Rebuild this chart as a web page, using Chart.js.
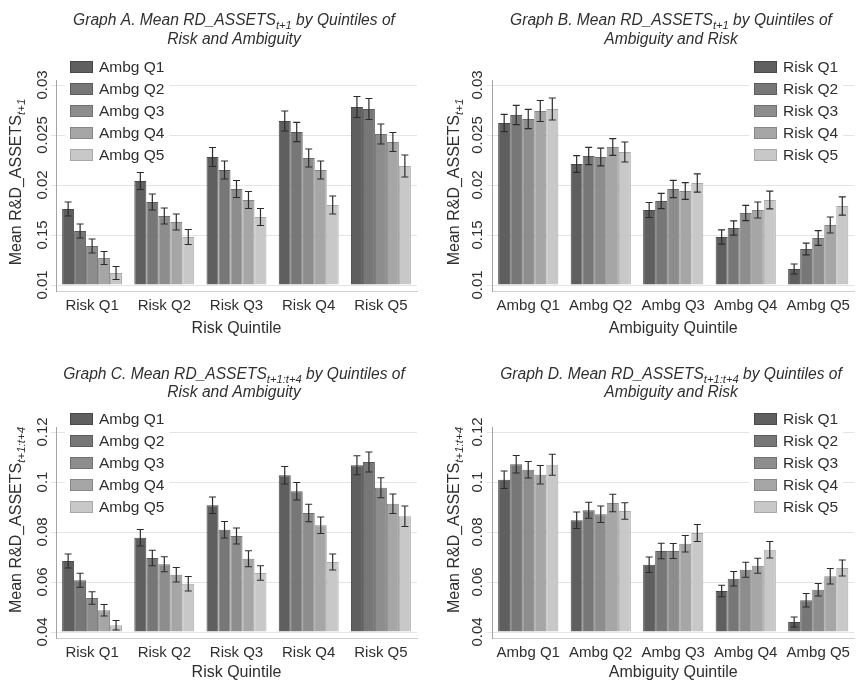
<!DOCTYPE html>
<html>
<head>
<meta charset="utf-8">
<script src="https://cdn.jsdelivr.net/npm/chart.js@4.4.1/dist/chart.umd.min.js"></script>
<style>
    html, body { margin: 0; padding: 0; background: #ffffff; }
    #wrap { position: relative; width: 856px; height: 682px; overflow: hidden; }
    #wrap canvas { position: absolute; }
</style>
</head>
<body>
<div id="wrap">
    <canvas id="chartA" width="428" height="341" style="left:0;top:0"></canvas>
    <canvas id="chartB" width="428" height="341" style="left:428px;top:0"></canvas>
    <canvas id="chartC" width="428" height="341" style="left:0;top:341px"></canvas>
    <canvas id="chartD" width="428" height="341" style="left:428px;top:341px"></canvas>
</div>
<script>
// ---- data ----
const riskCategories = ['Risk Q1', 'Risk Q2', 'Risk Q3', 'Risk Q4', 'Risk Q5'];
const ambgCategories = ['Ambg Q1', 'Ambg Q2', 'Ambg Q3', 'Ambg Q4', 'Ambg Q5'];

const ticksOneYear = [0.01, 0.015, 0.02, 0.025, 0.03];
const tickLabelsOneYear = ['0.01', '0.15', '0.02', '0.025', '0.03'];
const ticksFourYear = [0.04, 0.06, 0.08, 0.1, 0.12];
const tickLabelsFourYear = ['0.04', '0.06', '0.08', '0.1', '0.12'];

// Graph A: series = ambiguity quintile, x = risk quintile
const aAmbgQ1 = [0.0176, 0.0204, 0.0228, 0.0264, 0.0278];
const aAmbgQ2 = [0.0154, 0.0183, 0.0215, 0.0253, 0.0276];
const aAmbgQ3 = [0.0139, 0.0169, 0.0196, 0.0227, 0.0251];
const aAmbgQ4 = [0.0127, 0.0163, 0.0185, 0.0215, 0.0243];
const aAmbgQ5 = [0.0112, 0.0148, 0.0168, 0.0180, 0.0219];
const aErrQ1 = [0.0007, 0.00085, 0.00095, 0.001, 0.00105];
const aErrQ2 = [0.0007, 0.0008, 0.0009, 0.00097, 0.00105];
const aErrQ3 = [0.0007, 0.0008, 0.00085, 0.0009, 0.001];
const aErrQ4 = [0.00065, 0.0008, 0.00085, 0.0009, 0.00095];
const aErrQ5 = [0.00065, 0.00075, 0.00085, 0.0009, 0.0011];

// Graph B: series = risk quintile, x = ambiguity quintile
const bRiskQ1 = [0.0262, 0.0221, 0.0175, 0.0148, 0.0116];
const bRiskQ2 = [0.0270, 0.0229, 0.0184, 0.0157, 0.0136];
const bRiskQ3 = [0.0266, 0.0228, 0.0196, 0.0172, 0.0147];
const bRiskQ4 = [0.0274, 0.0238, 0.0194, 0.0175, 0.0160];
const bRiskQ5 = [0.0276, 0.0233, 0.0202, 0.0185, 0.0179];
const bErrQ1 = [0.00087, 0.00083, 0.00075, 0.00072, 0.0005];
const bErrQ2 = [0.00097, 0.00087, 0.00077, 0.00072, 0.00058];
const bErrQ3 = [0.00097, 0.00088, 0.00087, 0.00077, 0.00073];
const bErrQ4 = [0.00105, 0.00083, 0.00083, 0.0008, 0.0008];
const bErrQ5 = [0.0011, 0.001, 0.00092, 0.00088, 0.00092];

// Graph C
const cAmbgQ1 = [0.0684, 0.0777, 0.0907, 0.1027, 0.1067];
const cAmbgQ2 = [0.0607, 0.0696, 0.0809, 0.0963, 0.1080];
const cAmbgQ3 = [0.0536, 0.0671, 0.0784, 0.0876, 0.0977];
const cAmbgQ4 = [0.0487, 0.0629, 0.0693, 0.0827, 0.0913];
const cAmbgQ5 = [0.0427, 0.0593, 0.0636, 0.0680, 0.0863];
const cErrQ1 = [0.0028, 0.0033, 0.0033, 0.0035, 0.0038];
const cErrQ2 = [0.0028, 0.0031, 0.0033, 0.0035, 0.004];
const cErrQ3 = [0.0025, 0.003, 0.0032, 0.0035, 0.004];
const cErrQ4 = [0.0023, 0.0029, 0.0032, 0.0033, 0.0039];
const cErrQ5 = [0.0019, 0.0029, 0.0029, 0.0032, 0.0041];

// Graph D
const dRiskQ1 = [0.1009, 0.0847, 0.0669, 0.0564, 0.0440];
const dRiskQ2 = [0.1071, 0.0887, 0.0724, 0.0613, 0.0527];
const dRiskQ3 = [0.1049, 0.0871, 0.0724, 0.0649, 0.0569];
const dRiskQ4 = [0.1029, 0.0916, 0.0753, 0.0665, 0.0623];
const dRiskQ5 = [0.1069, 0.0884, 0.0796, 0.0729, 0.0656];
const dErrQ1 = [0.0035, 0.0033, 0.0031, 0.0023, 0.002];
const dErrQ2 = [0.0035, 0.0032, 0.0031, 0.0029, 0.0027];
const dErrQ3 = [0.0033, 0.0033, 0.003, 0.003, 0.0025];
const dErrQ4 = [0.0037, 0.0035, 0.0033, 0.003, 0.0031];
const dErrQ5 = [0.0042, 0.0033, 0.0034, 0.0033, 0.0032];

// ---- styles ----
const FAMILY = '"Liberation Sans", Arial, Helvetica, sans-serif';
const TEXT = '#2f2f2f';
const barFill = ['#5f5f5f', '#777777', '#8d8d8d', '#a6a6a6', '#c8c8c8'];
const barEdge = ['#484848', '#5c5c5c', '#707070', '#878787', '#a9a9a9'];

Chart.defaults.font.family = FAMILY;
Chart.defaults.color = TEXT;

const measureCtx = document.createElement('canvas').getContext('2d');

function drawSegments(ctx, segs, cx, cy, style, size) {
    const fontFor = s => s.sub
        ? 'italic ' + (size * 0.72).toFixed(1) + 'px ' + FAMILY
        : style + size + 'px ' + FAMILY;
    let total = 0;
    segs.forEach(s => { ctx.font = fontFor(s); total += ctx.measureText(s.t).width; });
    let x = cx - total / 2;
    ctx.textBaseline = 'middle';
    ctx.textAlign = 'left';
    segs.forEach(s => {
        ctx.font = fontFor(s);
        ctx.fillText(s.t, x, cy + (s.sub ? size * 0.3 : 0));
        x += ctx.measureText(s.t).width;
    });
}

// error bars drawn from each bar's own position and the y scale
const errorBars = {
    id: 'errorBars',
    afterDatasetsDraw(chart) {
        const ctx = chart.ctx;
        const yScale = chart.scales.y;
        ctx.save();
        ctx.strokeStyle = '#2c2c2c';
        ctx.lineWidth = 1.2;
        chart.data.datasets.forEach((ds, i) => {
            chart.getDatasetMeta(i).data.forEach((bar, j) => {
                const top = yScale.getPixelForValue(ds.data[j] + ds.errors[j]);
                const bot = yScale.getPixelForValue(ds.data[j] - ds.errors[j]);
                ctx.beginPath();
                ctx.moveTo(bar.x, top); ctx.lineTo(bar.x, bot);
                ctx.moveTo(bar.x - 3.5, top); ctx.lineTo(bar.x + 3.5, top);
                ctx.moveTo(bar.x - 3.5, bot); ctx.lineTo(bar.x + 3.5, bot);
                ctx.stroke();
            });
        });
        ctx.restore();
    }
};

function panelDecor(p) {
    return {
        id: 'panelDecor',
        afterDatasetsDraw(chart) {
            const ctx = chart.ctx;
            ctx.save();

            // legend with white box
            ctx.font = '15.5px ' + FAMILY;
            const labels = chart.data.datasets.map(ds => ds.label);
            const textW = Math.max(...labels.map(l => ctx.measureText(l).width));
            ctx.fillStyle = '#ffffff';
            ctx.fillRect(p.legendX - 5, p.legendY - 11, 29 + textW + 10, 22 * labels.length);
            chart.data.datasets.forEach((ds, i) => {
                const cy = p.legendY + i * 22;
                ctx.fillStyle = ds.backgroundColor;
                ctx.fillRect(p.legendX, cy - 6, 23, 12);
                ctx.strokeStyle = ds.borderColor;
                ctx.lineWidth = 1;
                ctx.strokeRect(p.legendX + 0.5, cy - 5.5, 22, 11);
                ctx.fillStyle = TEXT;
                ctx.textBaseline = 'middle';
                ctx.textAlign = 'left';
                ctx.fillText(ds.label, p.legendX + 29, cy + 1);
            });

            // titles with subscripts
            ctx.fillStyle = TEXT;
            p.title.forEach((segs, i) => drawSegments(ctx, segs, p.titleX, p.titleY[i], 'italic ', 15.6));
            ctx.translate(p.yTitleX, p.yTitleY);
            ctx.rotate(-Math.PI / 2);
            drawSegments(ctx, p.yTitle, 0, 0, '', 16);
            ctx.restore();
        }
    };
}

function makePanel(id, categories, names, series, errors, ticks, tickLabels, p) {
    measureCtx.font = '15px ' + FAMILY;
    const widest = Math.max(...tickLabels.map(l => measureCtx.measureText(l).width));
    const yPad = p.padLeft + p.yAxisW - 5 - widest / 2 - p.tickCenterX;

    new Chart(document.getElementById(id), {
        type: 'bar',
        data: {
            labels: categories,
            datasets: series.map((vals, i) => ({
                label: names[i],
                data: vals,
                errors: errors[i],
                backgroundColor: barFill[i],
                borderColor: barEdge[i],
                borderWidth: 1,
                base: ticks[0],
                categoryPercentage: 0.83,
                barPercentage: 1.0
            }))
        },
        options: {
            responsive: false,
            animation: false,
            layout: { padding: { left: p.padLeft, right: p.padRight, top: p.padTop, bottom: 0 } },
            scales: {
                x: {
                    grid: { display: false, drawTicks: false },
                    border: { color: '#d0d0d0' },
                    ticks: { font: { size: 15 }, padding: 6, color: TEXT },
                    title: {
                        display: true, text: p.xTitle, color: TEXT,
                        font: { size: 16 }, padding: { top: 0, bottom: p.xTitlePad }
                    },
                    afterFit: s => { s.height = p.xAxisH; }
                },
                y: {
                    min: p.yMin,
                    max: p.yMax,
                    afterBuildTicks: s => { s.ticks = ticks.map(v => ({ value: v })); },
                    grid: { color: '#e4e4e4', tickLength: 5, z: -1 },
                    border: { color: '#a4a4a4' },
                    ticks: {
                        callback: (v, i) => tickLabels[i],
                        minRotation: 90,
                        maxRotation: 90,
                        crossAlign: 'center',
                        autoSkip: false,
                        padding: yPad,
                        font: { size: 15 },
                        color: TEXT
                    },
                    afterFit: s => { s.width = p.yAxisW; }
                }
            },
            plugins: {
                legend: { display: false },
                tooltip: { enabled: false }
            }
        },
        plugins: [errorBars, panelDecor(p)]
    });
}

const subOne = [{ t: 'Mean R&D_ASSETS' }, { t: 't+1', sub: true }];
const subFour = [{ t: 'Mean R&D_ASSETS' }, { t: 't+1:t+4', sub: true }];

makePanel('chartA', riskCategories, ambgCategories,
    [aAmbgQ1, aAmbgQ2, aAmbgQ3, aAmbgQ4, aAmbgQ5],
    [aErrQ1, aErrQ2, aErrQ3, aErrQ4, aErrQ5],
    ticksOneYear, tickLabelsOneYear, {
        padLeft: 0, yAxisW: 56, padRight: 11, padTop: 80, xAxisH: 50, xTitlePad: 3,
        yMin: 0.0094, yMax: 0.0305, tickCenterX: 43, xTitle: 'Risk Quintile',
        title: [[{ t: 'Graph A. Mean RD_ASSETS' }, { t: 't+1', sub: true }, { t: ' by Quintiles of' }],
                [{ t: 'Risk and Ambiguity' }]],
        titleX: 234, titleY: [21, 40], yTitle: subOne, yTitleX: 17, yTitleY: 182,
        legendX: 70, legendY: 67
    });

makePanel('chartB', ambgCategories, riskCategories,
    [bRiskQ1, bRiskQ2, bRiskQ3, bRiskQ4, bRiskQ5],
    [bErrQ1, bErrQ2, bErrQ3, bErrQ4, bErrQ5],
    ticksOneYear, tickLabelsOneYear, {
        padLeft: 8, yAxisW: 56, padRight: 1, padTop: 80, xAxisH: 50, xTitlePad: 3,
        yMin: 0.0094, yMax: 0.0305, tickCenterX: 50, xTitle: 'Ambiguity Quintile',
        title: [[{ t: 'Graph B. Mean RD_ASSETS' }, { t: 't+1', sub: true }, { t: ' by Quintiles of' }],
                [{ t: 'Ambiguity and Risk' }]],
        titleX: 243, titleY: [21, 40], yTitle: subOne, yTitleX: 27, yTitleY: 182,
        legendX: 326, legendY: 67
    });

makePanel('chartC', riskCategories, ambgCategories,
    [cAmbgQ1, cAmbgQ2, cAmbgQ3, cAmbgQ4, cAmbgQ5],
    [cErrQ1, cErrQ2, cErrQ3, cErrQ4, cErrQ5],
    ticksFourYear, tickLabelsFourYear, {
        padLeft: 0, yAxisW: 56, padRight: 11, padTop: 86, xAxisH: 44, xTitlePad: 0,
        yMin: 0.0376, yMax: 0.122, tickCenterX: 43, xTitle: 'Risk Quintile',
        title: [[{ t: 'Graph C. Mean RD_ASSETS' }, { t: 't+1:t+4', sub: true }, { t: ' by Quintiles of' }],
                [{ t: 'Risk and Ambiguity' }]],
        titleX: 234, titleY: [34, 52], yTitle: subFour, yTitleX: 17, yTitleY: 179,
        legendX: 70, legendY: 78
    });

makePanel('chartD', ambgCategories, riskCategories,
    [dRiskQ1, dRiskQ2, dRiskQ3, dRiskQ4, dRiskQ5],
    [dErrQ1, dErrQ2, dErrQ3, dErrQ4, dErrQ5],
    ticksFourYear, tickLabelsFourYear, {
        padLeft: 8, yAxisW: 56, padRight: 1, padTop: 86, xAxisH: 44, xTitlePad: 0,
        yMin: 0.0376, yMax: 0.122, tickCenterX: 50, xTitle: 'Ambiguity Quintile',
        title: [[{ t: 'Graph D. Mean RD_ASSETS' }, { t: 't+1:t+4', sub: true }, { t: ' by Quintiles of' }],
                [{ t: 'Ambiguity and Risk' }]],
        titleX: 243, titleY: [34, 52], yTitle: subFour, yTitleX: 27, yTitleY: 179,
        legendX: 326, legendY: 78
    });
</script>
</body>
</html>
